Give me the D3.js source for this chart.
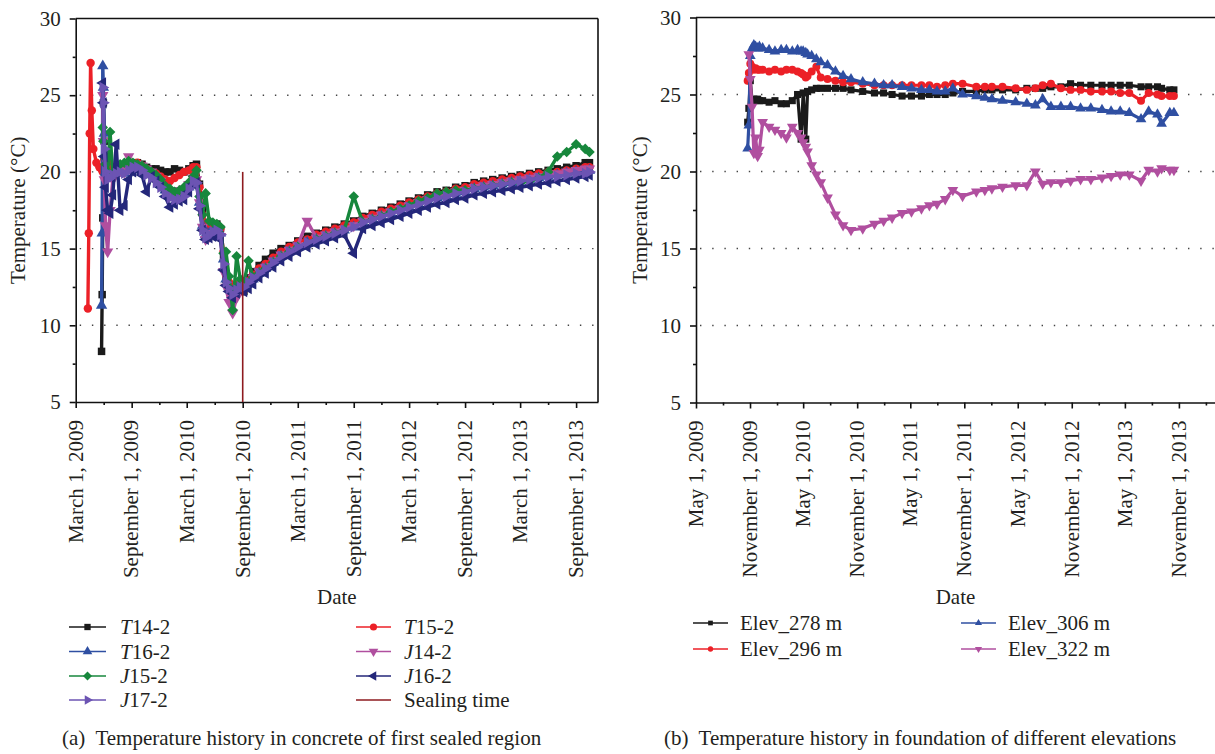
<!DOCTYPE html>
<html><head><meta charset="utf-8">
<script src="https://cdn.jsdelivr.net/npm/d3@7"></script>
<style>
body{margin:0;background:#fff}
svg{display:block}
text{font-family:"Liberation Serif","Times New Roman",serif;fill:#231f20}
</style></head><body>
<svg id="c" width="1215" height="754"></svg>
<script>
// ---------- DATA: panel (a) ----------
const leftDates = [
"2009-04-10","2009-04-13","2009-04-16","2009-04-19","2009-04-23","2009-04-28","2009-05-08","2009-05-18","2009-05-25","2009-05-27",
"2009-05-29","2009-05-31","2009-06-03","2009-06-07","2009-06-14","2009-06-22","2009-07-01","2009-07-12","2009-07-25","2009-08-08",
"2009-08-22","2009-09-05","2009-09-20","2009-10-05","2009-10-20","2009-11-05","2009-11-20","2009-12-05","2009-12-20","2010-01-05",
"2010-01-20","2010-02-05","2010-02-20","2010-03-08","2010-03-22","2010-04-02","2010-04-12","2010-04-22","2010-05-02","2010-05-14",
"2010-05-26","2010-06-08","2010-06-20","2010-06-30","2010-07-08","2010-07-18","2010-07-30","2010-08-12","2010-08-24","2010-09-05",
"2010-09-20","2010-10-05","2010-10-25","2010-11-15","2010-12-10","2011-01-05","2011-02-01","2011-03-01","2011-04-01","2011-05-01",
"2011-06-01","2011-07-01","2011-08-01","2011-09-01","2011-10-01","2011-11-01","2011-12-01","2012-01-01","2012-02-01","2012-03-01",
"2012-04-01","2012-05-01","2012-06-01","2012-07-01","2012-08-01","2012-09-01","2012-10-01","2012-11-01","2012-12-01","2013-01-01",
"2013-02-01","2013-03-01","2013-04-01","2013-05-01","2013-06-01","2013-07-01","2013-08-01","2013-09-01","2013-10-01","2013-10-15"];
const T14_2 = [
null,null,null,null,null,null,null,null,8.3,12.0,
17.0,24.5,22.0,20.3,20.0,19.8,19.9,20.1,20.3,20.2,
20.4,20.6,20.6,20.5,20.3,20.2,20.2,20.1,20.0,20.0,
20.2,20.1,20.0,20.2,20.4,20.5,19.2,17.5,16.3,16.4,
16.5,16.6,16.3,14.5,13.0,12.6,12.4,12.6,12.8,12.2,
13.1,13.5,13.9,14.3,14.7,15.0,15.2,15.5,15.8,16.0,
16.2,16.4,16.6,16.8,17.1,17.3,17.5,17.7,17.9,18.1,
18.3,18.5,18.7,18.8,19.0,19.1,19.3,19.4,19.5,19.6,
19.7,19.8,19.9,20.0,20.1,20.2,20.3,20.4,20.6,20.6];
const T15_2 = [
11.1,16.0,22.5,27.1,24.0,21.5,20.6,20.3,20.2,20.1,
20.0,20.2,20.8,21.0,20.6,20.4,20.3,20.1,20.2,20.1,
20.3,20.5,20.6,20.4,20.2,20.0,19.9,19.7,19.5,19.4,
19.6,19.8,20.0,20.1,20.3,20.3,19.0,17.2,16.6,16.5,
16.4,16.5,16.3,14.8,13.3,12.8,12.5,12.6,12.7,12.3,
12.9,13.3,13.7,14.0,14.4,14.8,15.1,15.4,15.6,15.9,
16.1,16.3,16.5,16.7,17.0,17.2,17.4,17.6,17.8,18.0,
18.2,18.4,18.6,18.7,18.9,19.0,19.2,19.3,19.4,19.5,
19.6,19.7,19.8,19.9,20.0,20.0,20.1,20.2,20.3,20.3];
const T16_2 = [
null,null,null,null,null,null,null,null,11.3,16.0,
26.9,25.5,22.5,20.0,19.8,19.6,19.8,20.0,20.1,19.9,
20.1,20.3,20.4,20.3,20.1,19.9,19.6,19.2,18.8,18.6,
18.4,18.4,18.6,19.0,19.4,19.4,18.0,16.5,15.9,16.0,
16.1,16.2,16.0,14.3,13.0,12.5,12.2,12.4,12.6,12.4,
12.7,13.0,13.4,13.7,14.1,14.5,14.8,15.1,15.4,15.6,
15.8,16.0,16.2,16.4,16.7,16.9,17.1,17.3,17.5,17.7,
17.9,18.1,18.3,18.4,18.6,18.7,18.9,19.0,19.1,19.2,
19.3,19.4,19.5,19.6,19.7,19.8,19.9,20.0,20.0,20.1];
const J14_2 = [
null,null,null,null,null,null,null,null,null,null,
25.0,22.0,19.5,16.5,14.8,17.5,19.5,20.3,20.1,20.0,
21.0,20.4,20.5,20.4,20.2,20.0,19.7,19.4,19.0,18.8,
18.7,18.8,18.9,19.2,19.6,19.5,18.0,16.4,15.6,15.8,
16.0,16.1,15.8,13.5,12.5,11.5,10.8,11.8,12.3,12.4,
12.8,13.1,13.5,13.8,14.2,14.6,14.9,15.2,16.8,15.7,
15.9,16.1,16.3,16.5,16.8,17.0,17.2,17.4,17.6,17.8,
18.0,18.2,18.4,18.5,18.7,18.8,19.0,19.1,19.2,19.3,
19.4,19.5,19.6,19.7,19.8,19.9,20.0,20.1,20.2,20.2];
const J15_2 = [
null,null,null,null,null,null,null,null,null,null,
22.9,22.0,21.0,20.5,20.0,22.6,19.8,20.3,20.5,20.6,
20.7,20.6,20.5,20.4,20.2,20.0,19.8,19.5,19.1,18.9,
18.7,18.8,19.0,19.3,19.7,20.1,18.4,17.2,18.6,16.8,
16.7,16.6,16.4,14.7,14.8,13.2,11.0,14.5,13.0,12.8,
14.2,13.1,13.4,13.7,14.1,14.5,14.8,15.1,15.3,15.6,
15.8,16.0,16.2,18.4,16.7,16.9,17.1,17.4,17.6,17.8,
18.1,18.3,18.6,18.7,18.8,18.8,18.9,19.0,19.1,19.2,
19.3,19.3,19.4,19.6,20.0,21.0,21.3,21.8,21.5,21.3];
const J16_2 = [
null,null,null,null,null,null,null,null,null,null,
25.8,24.5,21.0,19.0,17.5,17.3,18.5,21.8,17.5,17.8,
19.5,20.0,20.1,19.8,18.7,19.7,19.4,19.0,18.4,17.7,
17.9,18.1,18.2,18.7,19.2,19.3,17.6,16.2,15.6,15.7,
15.8,15.9,15.6,13.6,12.6,12.2,11.8,12.1,12.3,12.2,
12.4,12.7,13.1,13.4,13.8,14.2,14.5,14.8,15.1,15.3,
15.5,15.7,15.9,14.7,16.3,16.5,16.7,16.9,17.1,17.3,
17.5,17.7,17.9,18.0,18.2,18.3,18.5,18.6,18.7,18.8,
18.9,19.0,19.1,19.2,19.3,19.4,19.5,19.6,19.7,19.8];
const J17_2 = [
null,null,null,null,null,null,null,null,null,null,
25.5,24.5,21.5,20.0,19.5,19.6,19.8,19.9,20.0,19.9,
20.1,20.3,20.3,20.1,19.8,19.6,19.3,19.0,18.6,18.3,
18.2,18.2,18.4,18.9,19.4,19.3,17.8,16.2,15.7,15.9,
16.1,16.2,15.9,14.0,12.8,12.4,12.0,12.3,12.5,12.5,
12.8,13.1,13.4,13.7,14.1,14.5,14.8,15.1,15.4,15.6,
15.8,16.0,16.2,16.4,16.7,16.9,17.1,17.3,17.5,17.7,
17.9,18.1,18.3,18.4,18.6,18.7,18.9,19.0,19.1,19.2,
19.3,19.4,19.5,19.6,19.7,19.7,19.8,19.9,19.9,20.0];
const sealingDate = "2010-09-01";
const sealingRange = [5, 20];

// ---------- DATA: panel (b) ----------
const rightDates = [
"2009-10-24","2009-10-28","2009-11-02","2009-11-08","2009-11-14","2009-11-20","2009-11-27","2009-12-03","2009-12-14","2010-01-05",
"2010-01-25","2010-02-15","2010-03-05","2010-03-25","2010-04-12","2010-04-24","2010-05-01","2010-05-10","2010-05-16","2010-05-30",
"2010-06-15","2010-06-30","2010-07-23","2010-08-19","2010-09-14","2010-10-11","2010-11-20","2010-12-30","2011-01-30","2011-02-28",
"2011-04-03","2011-05-05","2011-06-08","2011-07-05","2011-07-31","2011-08-28","2011-09-23","2011-10-26","2011-12-12","2012-01-10",
"2012-02-03","2012-03-10","2012-04-24","2012-06-01","2012-06-30","2012-07-25","2012-08-22","2012-09-25","2012-10-28","2012-12-01",
"2013-01-05","2013-02-12","2013-03-15","2013-04-15","2013-05-16","2013-06-25","2013-07-21","2013-08-20","2013-09-03","2013-10-01",
"2013-10-15"];
const Elev278 = [
23.2,24.1,25.9,24.6,24.7,24.6,24.7,24.6,24.6,24.5,
24.6,24.4,24.4,24.6,25.0,22.1,25.1,22.1,25.2,25.3,
25.4,25.4,25.4,25.4,25.4,25.3,25.2,25.1,25.1,25.0,
24.9,24.9,24.9,25.0,25.0,25.0,25.1,25.2,25.2,25.3,
25.3,25.3,25.3,25.4,25.4,25.4,25.5,25.5,25.7,25.6,
25.6,25.6,25.6,25.6,25.6,25.5,25.5,25.5,25.4,25.3,
25.3];
const Elev296 = [
25.9,26.4,27.0,26.8,26.6,26.7,26.6,26.6,26.6,26.5,
26.6,26.5,26.6,26.6,26.5,26.4,26.3,26.1,26.2,26.5,
26.8,26.1,26.0,25.9,25.8,25.8,25.7,25.6,25.6,25.6,
25.6,25.6,25.6,25.6,25.5,25.6,25.7,25.7,25.5,25.5,
25.5,25.5,25.4,25.3,25.4,25.6,25.7,25.4,25.3,25.3,
25.2,25.2,25.2,25.1,25.1,24.6,25.1,25.0,24.9,24.9,
24.9];
const Elev306 = [
21.5,23.0,27.5,28.0,28.2,28.1,28.0,28.1,28.0,27.9,
27.8,27.9,27.9,27.8,27.9,27.8,27.8,27.7,27.6,27.5,
27.3,27.1,26.9,26.5,26.2,26.0,25.8,25.7,25.6,25.6,
25.5,25.4,25.3,25.3,25.2,25.2,25.4,25.0,24.9,24.8,
24.7,24.6,24.5,24.4,24.3,24.7,24.2,24.2,24.2,24.1,
24.1,24.0,23.9,23.9,23.8,23.4,23.9,23.7,23.1,23.8,
23.8];
const Elev322 = [
null,27.6,26.0,24.2,21.2,22.2,21.0,21.4,23.2,22.9,
22.7,22.5,22.2,22.9,22.5,22.2,21.9,21.6,21.3,20.4,
19.8,19.3,18.3,17.2,16.5,16.2,16.3,16.6,16.8,17.0,
17.3,17.4,17.6,17.8,17.9,18.2,18.8,18.4,18.7,18.8,
18.9,19.0,19.1,19.1,20.0,19.2,19.3,19.3,19.4,19.5,
19.5,19.6,19.7,19.8,19.8,19.4,20.1,20.0,20.2,20.1,
20.1];

// ---------- AXES / TICKS ----------
const yMajor = [5,10,15,20,25,30];
const yMinor = [7.5,12.5,17.5,22.5,27.5];
const yGrid = [10,15,20,25];
const leftMajor = ["2009-03-01","2009-09-01","2010-03-01","2010-09-01","2011-03-01","2011-09-01","2012-03-01","2012-09-01","2013-03-01","2013-09-01"];
const leftMinor = ["2009-06-01","2009-12-01","2010-06-01","2010-12-01","2011-06-01","2011-12-01","2012-06-01","2012-12-01","2013-06-01"];
const rightMajor = ["2009-05-01","2009-11-01","2010-05-01","2010-11-01","2011-05-01","2011-11-01","2012-05-01","2012-11-01","2013-05-01","2013-11-01"];
const rightMinor = ["2009-08-01","2010-02-01","2010-08-01","2011-02-01","2011-08-01","2012-02-01","2012-08-01","2013-02-01","2013-08-01","2014-02-01"];

const C = {black:"#1a1a1a", red:"#ec2027", blue:"#2f4fa2", magenta:"#b04f9f", green:"#17873c", navy:"#24277a", purple:"#6c54b3", seal:"#8e1b1f"};

const svg = d3.select("#c");
const parse = d3.timeParse("%Y-%m-%d");
const fmtDate = d3.timeFormat("%B %-d, %Y");
const FONT = 21;

function panel(o){
  const x = d3.scaleTime().domain(o.domain.map(parse)).range([o.x0, o.x1]);
  const y = d3.scaleLinear().domain([5,30]).range([o.y1, o.y0]);
  const g = svg.append("g");
  g.selectAll(null).data(yGrid).join("line")
    .attr("x1", o.x0+4).attr("x2", o.x1).attr("y1", d=>y(d)).attr("y2", d=>y(d))
    .attr("stroke","#444").attr("stroke-width",1.4).attr("stroke-dasharray","1.4 10.8");
  g.append("line").attr("x1",o.x0).attr("x2",o.x1).attr("y1",o.y0).attr("y2",o.y0).attr("stroke","#111").attr("stroke-width",1.6);
  g.append("line").attr("x1",o.x1).attr("x2",o.x1).attr("y1",o.y0).attr("y2",o.y1).attr("stroke","#111").attr("stroke-width",1.6);
  const ax = g.append("g").attr("transform",`translate(0,${o.y1})`)
    .call(d3.axisBottom(x).tickValues(o.major.map(parse)).tickSize(6).tickSizeOuter(0).tickFormat(fmtDate));
  g.append("g").attr("transform",`translate(0,${o.y1})`)
    .call(d3.axisBottom(x).tickValues(o.minor.map(parse)).tickSize(3).tickSizeOuter(0).tickFormat(""))
    .select(".domain").remove();
  ax.selectAll("text").attr("transform","rotate(-90)").attr("x",-18).attr("y",0).attr("dy","0.3em")
    .attr("text-anchor","end").attr("font-size",FONT).attr("font-family","Liberation Serif").attr("fill","#231f20");
  const ay = g.append("g").attr("transform",`translate(${o.x0},0)`)
    .call(d3.axisLeft(y).tickValues(yMajor).tickSize(6).tickSizeOuter(0).tickPadding(9));
  g.append("g").attr("transform",`translate(${o.x0},0)`)
    .call(d3.axisLeft(y).tickValues(yMinor).tickSize(3).tickSizeOuter(0).tickFormat(""))
    .select(".domain").remove();
  ay.selectAll("text").attr("font-size",FONT).attr("font-family","Liberation Serif").attr("fill","#231f20");
  g.selectAll(".domain, .tick line").attr("stroke","#111").attr("stroke-width",1.6);
  g.append("text").attr("transform",`translate(${o.titleX},${(o.y0+o.y1)/2}) rotate(-90)`)
    .attr("text-anchor","middle").attr("dy","0.35em").attr("font-size",FONT).text("Temperature (°C)");
  g.append("text").attr("x",(o.x0+Math.min(o.x1,1215))/2).attr("y",604).attr("text-anchor","middle")
    .attr("font-size",FONT).text("Date");
  return {x,y,g};
}

function symbolPath(shape,size){
  const map = {square:d3.symbolSquare, circle:d3.symbolCircle, tri:d3.symbolTriangle, diamond:d3.symbolSquare};
  return d3.symbol(map[shape], size)();
}

function drawSeries(P, dates, vals, s, msize, lw){
  const pts = dates.map((d,i)=>({d:parse(d), v:vals[i]})).filter(p=>p.v!=null);
  const layer = P.g.append("g");
  layer.append("path").datum(pts)
    .attr("d", d3.line().x(p=>P.x(p.d)).y(p=>P.y(p.v)))
    .attr("fill","none").attr("stroke",s.color).attr("stroke-width",lw).attr("stroke-linejoin","round");
  layer.selectAll(null).data(pts).join("path")
    .attr("d", symbolPath(s.shape, msize))
    .attr("transform", p=>`translate(${P.x(p.d)},${P.y(p.v)}) rotate(${s.rot})`)
    .attr("fill", s.color);
}

// ---------- PANEL (a) ----------
const A = panel({x0:75.7, x1:598, y0:18.5, y1:402, domain:["2009-03-01","2013-11-12"],
  major:leftMajor, minor:leftMinor, titleX:18});
const leftSeries = [
  {name:["T","14-2"], vals:T14_2, color:C.black, shape:"square", rot:0},
  {name:["T","15-2"], vals:T15_2, color:C.red, shape:"circle", rot:0},
  {name:["T","16-2"], vals:T16_2, color:C.blue, shape:"tri", rot:0},
  {name:["J","14-2"], vals:J14_2, color:C.magenta, shape:"tri", rot:180},
  {name:["J","15-2"], vals:J15_2, color:C.green, shape:"diamond", rot:45},
  {name:["J","16-2"], vals:J16_2, color:C.navy, shape:"tri", rot:-90},
  {name:["J","17-2"], vals:J17_2, color:C.purple, shape:"tri", rot:90}
];
leftSeries.forEach(s=>drawSeries(A, leftDates, s.vals, s, 56, 3.4));
A.g.append("line").attr("x1",A.x(parse(sealingDate))).attr("x2",A.x(parse(sealingDate)))
  .attr("y1",A.y(sealingRange[0])).attr("y2",A.y(sealingRange[1])).attr("stroke",C.seal).attr("stroke-width",1.6);

// ---------- PANEL (b) ----------
const B = panel({x0:696, x1:1220, y0:17.5, y1:402.5, domain:["2009-05-01","2014-03-21"],
  major:rightMajor, minor:rightMinor, titleX:640});
const rightSeries = [
  {name:"Elev_278 m", vals:Elev278, color:C.black, shape:"square", rot:0},
  {name:"Elev_296 m", vals:Elev296, color:C.red, shape:"circle", rot:0},
  {name:"Elev_306 m", vals:Elev306, color:C.blue, shape:"tri", rot:0},
  {name:"Elev_322 m", vals:Elev322, color:C.magenta, shape:"tri", rot:180}
];
rightSeries.forEach(s=>drawSeries(B, rightDates, s.vals, s, 50, 3.2));

// ---------- LEGENDS ----------
function legendItem(x1,x2,xt,yy,s,msize,labelFn){
  const g = svg.append("g");
  g.append("line").attr("x1",x1).attr("x2",x2).attr("y1",yy).attr("y2",yy).attr("stroke",s.color).attr("stroke-width",1.6);
  if(s.shape) g.append("path").attr("d",symbolPath(s.shape,msize))
    .attr("transform",`translate(${(x1+x2)/2},${yy}) rotate(${s.rot})`).attr("fill",s.color);
  const t = g.append("text").attr("x",xt).attr("y",yy).attr("dy","0.35em").attr("font-size",FONT);
  labelFn(t);
}
const leftRows = [627, 651.5, 676, 700];
const leftOrder = [[0,2,4,6],[1,3,5,"seal"]];
leftOrder.forEach((col,ci)=>{
  col.forEach((idx,ri)=>{
    const xs = ci===0 ? [69,106,120] : [356,391,404];
    if(idx==="seal"){
      legendItem(xs[0],xs[1],xs[2],leftRows[ri],{color:C.seal},0,t=>t.text("Sealing time"));
    } else {
      const s = leftSeries[idx];
      legendItem(xs[0],xs[1],xs[2],leftRows[ri],s,40,t=>{
        t.append("tspan").attr("font-style","italic").text(s.name[0]);
        t.append("tspan").text(s.name[1]);
      });
    }
  });
});
const rightRows = [623, 649];
[[0,1],[2,3]].forEach((col,ci)=>{
  col.forEach((idx,ri)=>{
    const xs = ci===0 ? [693,728,740] : [961,996,1008];
    const s = rightSeries[idx];
    legendItem(xs[0],xs[1],xs[2],rightRows[ri],s,22,t=>t.text(s.name));
  });
});

// ---------- CAPTIONS ----------
svg.append("text").attr("x",62).attr("y",745).attr("font-size",FONT).style("white-space","pre")
  .text("(a)  Temperature history in concrete of first sealed region");
svg.append("text").attr("x",664).attr("y",745).attr("font-size",FONT).style("white-space","pre")
  .text("(b)  Temperature history in foundation of different elevations");
</script>
</body></html>
